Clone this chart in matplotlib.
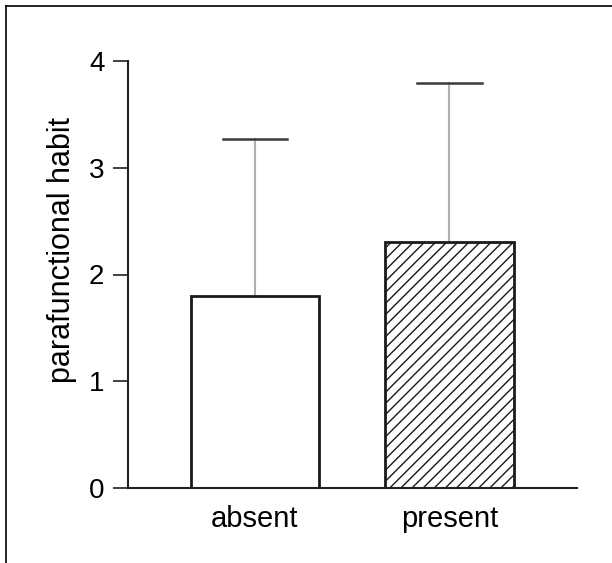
import matplotlib.pyplot as plt
from matplotlib.lines import Line2D

# Data
groups = ['absent', 'present']
means = [1.8, 2.3]
errors = [1.47, 1.49]
hatches = ['', '///']

plt.rcParams['font.family'] = ['Liberation Sans', 'DejaVu Sans']
plt.rcParams['hatch.color'] = '#a0a0a0'
plt.rcParams['hatch.linewidth'] = 1.0

fig = plt.figure(figsize=(6.12, 5.63), dpi=100)
ax = fig.add_axes([128 / 612, 1 - 488 / 563, 449 / 612, 427 / 563])

x = [0, 1]
width = 0.66
for xi, m, e, h in zip(x, means, errors, hatches):
    ax.bar(xi, m, width, color='white', edgecolor='#1a1a1a', linewidth=2,
           hatch=h, zorder=2)
    # upper error bar only
    ax.plot([xi, xi], [m, m + e], color='#b0b0b0', linewidth=1.5, zorder=1)
    ax.plot([xi - 0.165, xi + 0.165], [m + e, m + e], color='#3a3a3a',
            linewidth=1.8, zorder=1)

ax.set_xlim(-0.653, 1.656)
ax.set_ylim(0, 4)
ax.set_yticks([0, 1, 2, 3, 4])
ax.set_xticks(x)
ax.set_xticklabels(groups, fontsize=21)
ax.tick_params(axis='x', length=0, pad=12)
ax.tick_params(axis='y', length=11, width=1.3, labelsize=20, pad=6,
               color='#333333')
ax.set_ylabel('parafunctional habit', fontsize=22)
ax.yaxis.set_label_coords(-0.113, 0.557)

for s in ['top', 'right']:
    ax.spines[s].set_visible(False)
for s in ['left', 'bottom']:
    ax.spines[s].set_linewidth(1.5)
    ax.spines[s].set_color('#222222')

# outer frame (left and top edges)
fig.add_artist(Line2D([6 / 612, 6 / 612], [0, 1 - 6 / 563], color='black',
                      linewidth=1.2, transform=fig.transFigure))
fig.add_artist(Line2D([6 / 612, 1], [1 - 6 / 563, 1 - 6 / 563], color='black',
                      linewidth=1.2, transform=fig.transFigure))

fig.savefig('out.png', dpi=100)
